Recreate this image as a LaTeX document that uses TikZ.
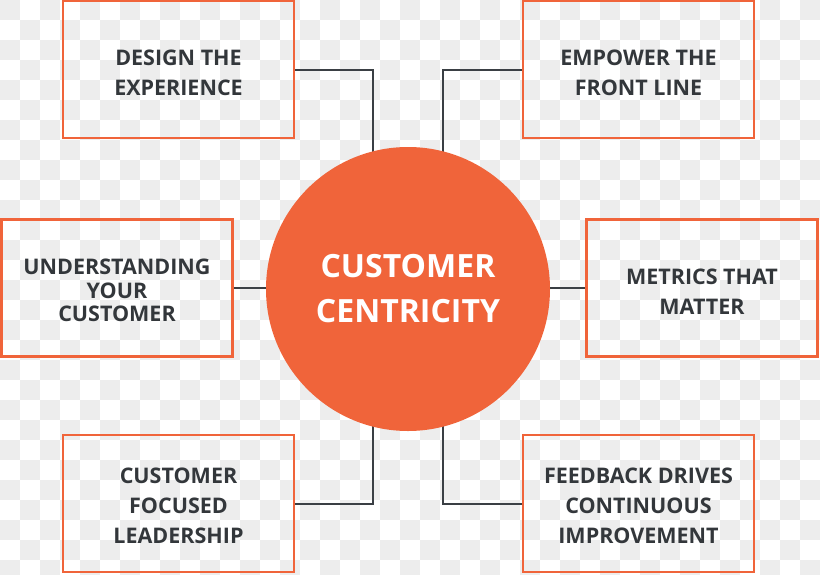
\documentclass[tikz,border=0pt]{standalone}
\usepackage{fontspec}
\setmainfont{Open Sans}[BoldFont={* Bold}]
\usetikzlibrary{calc}
\definecolor{brand}{HTML}{F0643A}
\definecolor{ink}{HTML}{33373B}
\definecolor{wire}{HTML}{3A3F44}
\definecolor{check}{HTML}{EDEDED}
\pgfdeclarelayer{bg}
\pgfdeclarelayer{wires}
\pgfsetlayers{bg,wires,main}
\tikzset{
  card/.style={draw=brand, line width=2.6pt, minimum width=231pt, minimum height=137pt, inner sep=0pt},
  cardtext/.style={align=center, text=ink, inner sep=0pt, font=\bfseries\fontsize{21.5}{30}\selectfont},
  tighttext/.style={cardtext, font=\bfseries\fontsize{21.5}{23.5}\selectfont},
  hub/.style={circle, fill=brand, minimum size=284pt, inner sep=0pt, align=center,
    text=white, font=\bfseries\fontsize{32}{45}\selectfont},
  link/.style={draw=wire, line width=2pt}
}
\begin{document}
\begin{tikzpicture}[x=1pt,y=-1pt]
\useasboundingbox (0,0) rectangle (820,574);
\begin{pgfonlayer}{bg}
  \fill[white] (0,0) rectangle (820,574);
  \foreach \j in {0,...,28}{
    \ifodd\j
      \foreach \i in {20,60,...,820}{\fill[check] (\i,\j*20) rectangle ++(20,20);}
    \else
      \foreach \i in {0,40,...,800}{\fill[check] (\i,\j*20) rectangle ++(20,20);}
    \fi
  }
\end{pgfonlayer}

\node[hub] (c) at (408,289) {CUSTOMER\\CENTRICITY};

\node[card] (tl) at (178.5,69.5) {};
\node[card] (tr) at (638.5,69.5) {};
\node[card] (ml) at (117,288) {};
\node[card] (mr) at (702,288) {};
\node[card] (bl) at (178.5,503.5) {};
\node[card] (br) at (638.5,503.5) {};

\node[cardtext] (tlt) at ($(tl.center)+(0,3.5)$) {DESIGN THE\\EXPERIENCE};
\node[cardtext] (trt) at ($(tr.center)+(0,3.5)$) {EMPOWER THE\\FRONT LINE};
\node[tighttext] (mlt) at ($(ml.center)+(0,2.5)$) {UNDERSTANDING\\YOUR\\CUSTOMER};
\node[cardtext] (mrt) at ($(mr.center)+(0,3.5)$) {METRICS THAT\\MATTER};
\node[cardtext] (blt) at ($(bl.center)+(0,2)$) {CUSTOMER\\FOCUSED\\LEADERSHIP};
\node[cardtext] (brt) at ($(br.center)+(0,2)$) {FEEDBACK DRIVES\\CONTINUOUS\\IMPROVEMENT};

\begin{pgfonlayer}{wires}
  \draw[link] (tl.east) -| ($(c.center)+(-35,0)$);
  \draw[link] (tr.west) -| ($(c.center)+(35,0)$);
  \draw[link] (ml.east) -- (ml.east -| c.center);
  \draw[link] (mr.west) -- (mr.west -| c.center);
  \draw[link] ($(c.center)+(-35,0)$) |- (bl.east);
  \draw[link] ($(c.center)+(35,0)$) |- (br.west);
\end{pgfonlayer}
\end{tikzpicture}
\end{document}
